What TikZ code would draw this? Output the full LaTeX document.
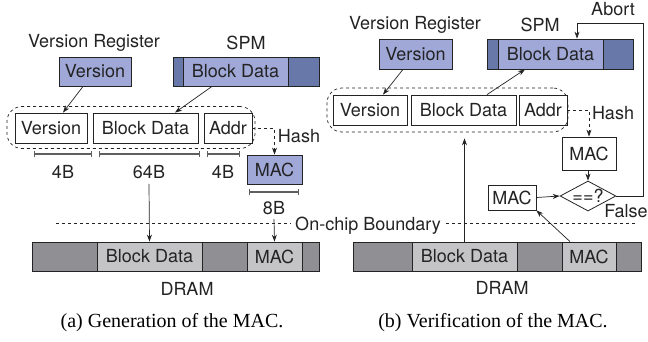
\documentclass[tikz,border=0pt]{standalone}
\usepackage{fontspec}
\setmainfont{TeX Gyre Heros}
\newfontfamily\capfont{Liberation Serif}
\usetikzlibrary{arrows.meta,shapes.geometric}
\definecolor{regblue}{RGB}{160,168,216}
\definecolor{regdark}{RGB}{104,120,168}
\definecolor{dramdark}{RGB}{144,144,148}
\definecolor{dramlight}{RGB}{196,196,198}
\definecolor{bargray}{RGB}{95,95,95}
\definecolor{ink}{RGB}{35,35,35}
\tikzset{
  lbl/.style={inner sep=0pt,text=ink,font=\fontsize{18}{20}\selectfont},
  cell/.style={draw=ink,line width=.8pt,inner sep=0pt,minimum height=30pt,text=ink,font=\fontsize{18}{20}\selectfont},
  regcell/.style={cell,fill=regblue,minimum height=29pt},
  segbar/.style={draw=ink,line width=.8pt,inner sep=0pt,minimum height=29pt},
  dramcell/.style={cell,fill=dramlight,minimum height=29pt},
  group/.style={draw=ink,dashed,line width=.7pt,rounded corners=15pt,inner sep=0pt},
  bytes/.style={draw=bargray,line width=1.1pt,{Bar[width=6pt]}-{Bar[width=6pt]}},
  link/.style={draw=ink,line width=.7pt,-{Stealth[length=7pt,width=5pt]}},
  hashlink/.style={link,dashed},
  boundary/.style={draw=ink,dashed,line width=.7pt},
  caption/.style={inner sep=0pt,font=\capfont\fontsize{20}{22}\selectfont}
}
\begin{document}
\begin{tikzpicture}[x=1pt,y=-1pt]
\useasboundingbox (0,0) rectangle (648,341);

%% (a) generation
\node[lbl] (vrA) at (94,43) {Version Register};
\node[lbl] (spmA) at (246,43) {SPM};
\node[regcell,minimum width=72pt] (verA) at (95,71.5) {Version};
\node[segbar,fill=regdark,minimum width=146pt] (spmbarA) at (246,71.5) {};
\node[regcell,minimum width=105pt] (blkA) at (235.5,71.5) {Block Data};
% hashed input
\node[group,minimum width=248pt,minimum height=42pt] (grpA) at (131,127.5) {};
\node[cell,minimum width=72pt] (vA) at (51,128) {Version};
\node[cell,minimum width=105pt] (bA) at (145.5,128) {Block Data};
\node[cell,minimum width=48pt] (aA) at (228,128) {Addr};
\node[regcell,minimum width=55pt] (macA) at (274.5,169.5) {MAC};
\node[lbl] (hashA) at (299,136) {Hash};
\draw[link] ([xshift=-12pt]verA.south) -- ([xshift=12pt]vA.north);
\draw[link] ([xshift=-23.5pt]blkA.south) -- ([xshift=29.5pt]bA.north);
\draw[hashlink] (aA.east) -| (macA.north);
% sizes
\draw[bytes] (34,154) -- (92,154);
\draw[bytes] (99,154) -- (200,154);
\draw[bytes] (207,154) -- (240,154);
\draw[bytes] (249,192) -- (299,192);
\node[lbl] (l4a) at (63,172) {4B};
\node[lbl] (l64) at (149,172) {64B};
\node[lbl] (l4b) at (223,172) {4B};
\node[lbl] (l8) at (274,208) {8B};
% memory
\node[segbar,fill=dramdark,minimum width=287pt] (dramA) at (175.5,256.5) {};
\node[dramcell,minimum width=105pt] (dbA) at (149.5,256.5) {Block Data};
\node[dramcell,minimum width=55pt] (dmA) at (274.5,256.5) {MAC};
\node[lbl] (dlA) at (187,289) {DRAM};
\draw[link] (l64.south) ++(0,5) -- (dbA.north);
\draw[link] (l8.south) ++(0,4) -- (dmA.north);
\node[caption] (capA) at (172,323) {(a) Generation of the MAC.};

%% chip boundary
\node[lbl,anchor=base] (bnd) at (368,230) {On-chip Boundary};
\draw[boundary] (56,223) -- ([xshift=-5pt]bnd.west |- 0,223);
\draw[boundary] ([xshift=5pt]bnd.east |- 0,223) -- (635,223);

%% (b) verification
\node[lbl] (abort) at (613,9) {Abort};
\node[lbl] (vrB) at (415,25) {Version Register};
\node[lbl] (spmB) at (540,25) {SPM};
\node[regcell,minimum width=73pt,minimum height=30pt] (verB) at (415.5,54) {Version};
\node[segbar,fill=regdark,minimum width=146pt,minimum height=30pt] (spmbarB) at (560,54) {};
\node[regcell,minimum width=105pt,minimum height=30pt] (blkB) at (550.5,54) {Block Data};
\node[group,minimum width=241pt,minimum height=44pt] (grpB) at (447.5,110) {};
\node[cell,minimum width=74pt] (vB) at (370,110) {Version};
\node[cell,minimum width=105pt] (bB) at (463.5,110) {Block Data};
\node[cell,minimum width=48pt] (aB) at (543,110) {Addr};
\node[lbl] (hashB) at (613,113) {Hash};
\node[cell,minimum width=54pt,minimum height=33pt] (macB) at (589,153.5) {MAC};
\node[cell,diamond,aspect=1.86,minimum width=54pt,minimum height=29pt] (cmp) at (588,196) {==?};
\node[cell,minimum width=48pt,minimum height=25pt] (macC) at (512,197.5) {MAC};
\node[lbl] (false) at (626,211) {False};
\draw[link] ([xshift=-12.5pt]verB.south) -- ([xshift=13pt]vB.north);
\draw[link] ([xshift=23.5pt]bB.north) -- ([xshift=-25.5pt]blkB.south);
\draw[hashlink] (aB.east) -| (macB.north);
\draw[link] (macB.south -| cmp.north) -- (cmp.north);
\draw[link] (macC.east) -- (cmp.west);
\draw[link] (cmp.east) -- (643,196) -- (643,23) -- (577,23) -- ([xshift=26.5pt]blkB.north);
% memory
\node[segbar,fill=dramdark,minimum width=288pt] (dramB) at (497,256.5) {};
\node[dramcell,minimum width=105pt] (dbB) at (464.5,256.5) {Block Data};
\node[dramcell,minimum width=54pt] (dmB) at (589,256.5) {MAC};
\node[lbl] (dlB) at (502,288) {DRAM};
\path (dbB.north |- grpB.south) ++(0,6) coordinate (tipB);
\draw[link] (dbB.north) -- (tipB);
\draw[link] ([xshift=-19pt]dmB.north) -- (macC.south east);
\node[caption] (capB) at (493,323) {(b) Verification of the MAC.};
\end{tikzpicture}
\end{document}
